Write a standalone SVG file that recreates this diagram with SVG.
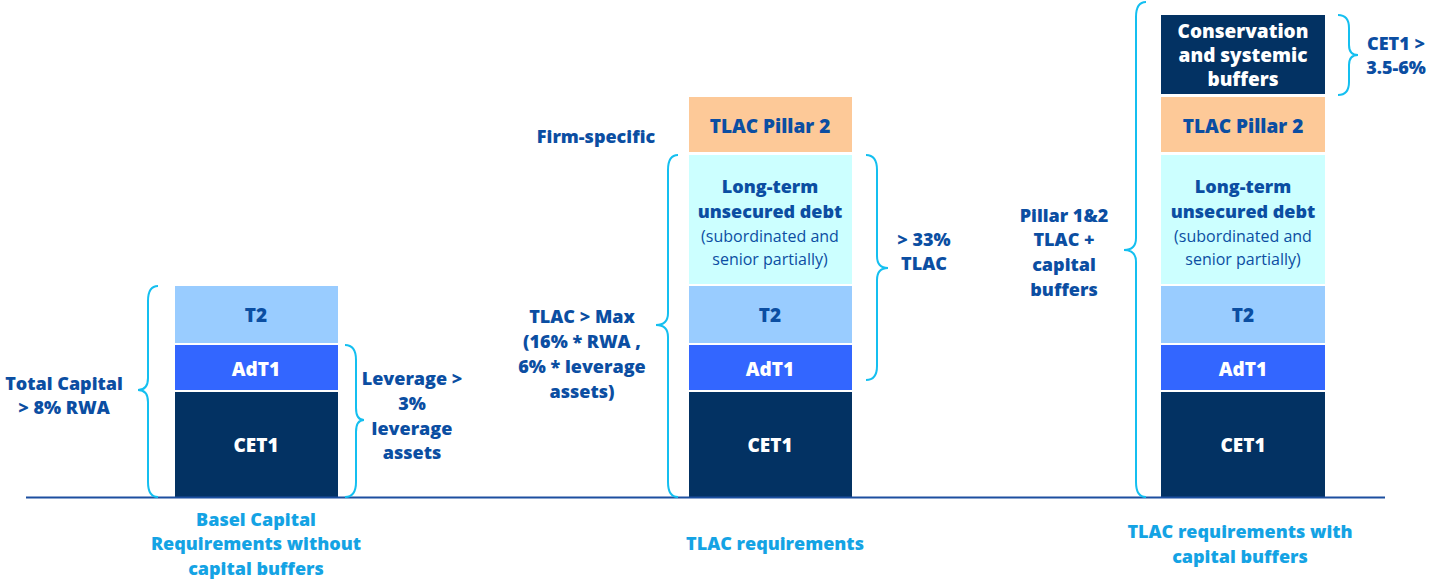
<svg xmlns="http://www.w3.org/2000/svg" width="1442" height="579" viewBox="0 0 1442 579">
<style>
text{font-family:"Open Sans","Liberation Sans",sans-serif;font-weight:800;text-anchor:middle}
.w{fill:#fff;font-size:19px}
.d{fill:#0b4ea2;font-size:18px}
.n{fill:#0b4ea2;font-size:16px;font-weight:400}
.c{fill:#14a3e4;font-size:18px}
.br{fill:none;stroke:#14bff0;stroke-width:2}
</style>
<rect width="1442" height="579" fill="#fff"/>
<g id="bar1">
<rect x="175" y="286" width="163" height="57" fill="#99ccff"/><text class="d" x="256" y="322" style="font-size:19px">T2</text>
<rect x="175" y="345" width="163" height="45" fill="#3366ff"/><text class="w" x="256" y="376">AdT1</text>
<rect x="175" y="392" width="163" height="105" fill="#033263"/><text class="w" x="256" y="452">CET1</text>
</g>
<g id="bar2">
<rect x="689" y="97" width="163" height="55" fill="#fdc998"/><text class="d" x="770" y="133" style="font-size:19px">TLAC Pillar 2</text>
<rect x="689" y="155" width="163" height="129" fill="#ccffff"/>
<text class="d" x="770" y="193">Long-term</text><text class="d" x="770" y="218">unsecured debt</text>
<text class="n" x="770" y="242">(subordinated and</text><text class="n" x="770" y="265">senior partially)</text>
<rect x="689" y="286" width="163" height="57" fill="#99ccff"/><text class="d" x="770" y="322" style="font-size:19px">T2</text>
<rect x="689" y="345" width="163" height="45" fill="#3366ff"/><text class="w" x="770" y="376">AdT1</text>
<rect x="689" y="392" width="163" height="105" fill="#033263"/><text class="w" x="770" y="452">CET1</text>
</g>
<g id="bar3">
<rect x="1161" y="15" width="164" height="79" fill="#033263"/>
<text class="w" x="1243" y="38">Conservation</text><text class="w" x="1243" y="62">and systemic</text><text class="w" x="1243" y="86">buffers</text>
<rect x="1161" y="97" width="164" height="55" fill="#fdc998"/><text class="d" x="1243" y="133" style="font-size:19px">TLAC Pillar 2</text>
<rect x="1161" y="155" width="164" height="129" fill="#ccffff"/>
<text class="d" x="1243" y="193">Long-term</text><text class="d" x="1243" y="218">unsecured debt</text>
<text class="n" x="1243" y="242">(subordinated and</text><text class="n" x="1243" y="265">senior partially)</text>
<rect x="1161" y="286" width="164" height="57" fill="#99ccff"/><text class="d" x="1243" y="322" style="font-size:19px">T2</text>
<rect x="1161" y="345" width="164" height="45" fill="#3366ff"/><text class="w" x="1243" y="376">AdT1</text>
<rect x="1161" y="392" width="164" height="105" fill="#033263"/><text class="w" x="1243" y="452">CET1</text>
</g>
<g id="connectors">
<line x1="26" y1="497.5" x2="1385" y2="497.5" stroke="#1c4fa0" stroke-width="2"/>
<path class="br" d="M158,286 Q148,286 148,301 L148,378 Q148,390 138,390 Q148,390 148,402 L148,482 Q148,497 158,497"/>
<path class="br" d="M345,345 Q356,345 356,360 L356,408 Q356,420 364,420 Q356,420 356,432 L356,482 Q356,497 345,497"/>
<path class="br" d="M678,155 Q668,155 668,170 L668,313 Q668,325 656,325 Q668,325 668,337 L668,482 Q668,497 678,497"/>
<path class="br" d="M866,155 Q877,155 877,170 L877,256 Q877,268 888,268 Q877,268 877,280 L877,366 Q877,380 866,380"/>
<path class="br" d="M1146,2 Q1136,2 1136,17 L1136,238 Q1136,250 1124,250 Q1136,250 1136,262 L1136,482 Q1136,497 1146,497"/>
<path class="br" d="M1338,15 Q1349,15 1349,28 L1349,45 Q1349,55 1358,55 Q1349,55 1349,65 L1349,82 Q1349,95 1338,95"/>
</g>
<g id="labels">
<text class="d" x="64" y="390">Total Capital</text><text class="d" x="64" y="414">&gt; 8% RWA</text>
<text class="d" x="412" y="385">Leverage &gt;</text><text class="d" x="412" y="410">3%</text><text class="d" x="412" y="435">leverage</text><text class="d" x="412" y="459">assets</text>
<text class="d" x="596" y="143">Firm-specific</text><text class="d" x="596" y="143" dy="0" style="display:none"></text>
<text class="d" x="590" y="142" style="display:none"></text>
<text class="d" x="582" y="323">TLAC &gt; Max</text><text class="d" x="582" y="348">(16% * RWA ,</text><text class="d" x="582" y="373">6% * leverage</text><text class="d" x="582" y="398">assets)</text>
<text class="d" x="924" y="246">&gt; 33%</text><text class="d" x="924" y="270">TLAC</text>
<text class="d" x="1064" y="222">Pillar 1&amp;2</text><text class="d" x="1064" y="246">TLAC +</text><text class="d" x="1064" y="271">capital</text><text class="d" x="1064" y="296">buffers</text>
<text class="d" x="1396" y="50">CET1 &gt;</text><text class="d" x="1396" y="74">3.5-6%</text>
<text class="c" x="256" y="526">Basel Capital</text><text class="c" x="256" y="550">Requirements without</text><text class="c" x="256" y="575">capital buffers</text>
<text class="c" x="775" y="550">TLAC requirements</text>
<text class="c" x="1240" y="538">TLAC requirements with</text><text class="c" x="1240" y="563">capital buffers</text>
</g>
</svg>
